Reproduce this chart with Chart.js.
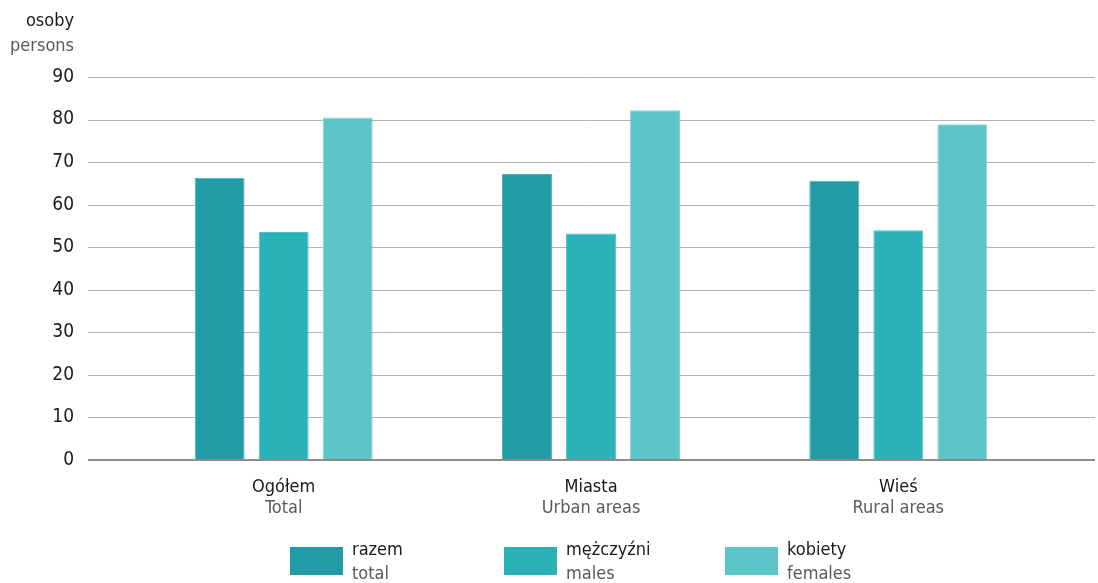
<!DOCTYPE html>
<html>
<head>
<meta charset="utf-8">
<script src="https://cdn.jsdelivr.net/npm/chart.js@4"></script>
<style>
  html, body { margin: 0; padding: 0; background: #fff; }
  #wrap { width: 1098px; height: 583px; position: relative; }
</style>
</head>
<body>
<div id="wrap"><canvas id="chart" width="1098" height="583"></canvas></div>
<script>
// Data
const categories = ["Ogółem", "Miasta", "Wieś"];
const categoriesEn = ["Total", "Urban areas", "Rural areas"];
const seriesLabels = ["razem", "mężczyźni", "kobiety"];
const seriesLabelsEn = ["total", "males", "females"];
const totalValues = [66.3, 67.2, 65.6];
const maleValues = [53.6, 53.2, 54.0];
const femaleValues = [80.5, 82.2, 78.9];
const yTickMax = 90;
const yTickStep = 10;

const colors = ["#219ca6", "#2ab2b8", "#5bc5c8"];
const edgeColors = ["#4bb0b8", "#55c2c7", "#7fd3d5"];
const FONT = '"Liberation Sans Narrow", "DejaVu Sans Condensed", "Open Sans", sans-serif';
const DARK = "#1a1a1a";
const GREY = "#5a5a5a";

// Gridlines, axis labels and legend drawn with the chart's own scales
const decorations = {
  id: "decorations",
  beforeDatasetsDraw(chart) {
    const ctx = chart.ctx;
    const y = chart.scales.y;
    ctx.save();
    ctx.strokeStyle = "#b3b3b3";
    ctx.lineWidth = 1;
    y.ticks.forEach((t) => {
      if (t.value === 0) return;
      const py = Math.round(y.getPixelForValue(t.value)) + 0.5;
      ctx.beginPath();
      ctx.moveTo(88, py);
      ctx.lineTo(1095, py);
      ctx.stroke();
    });
    ctx.restore();
  },
  afterDraw(chart) {
    const ctx = chart.ctx;
    const x = chart.scales.x;
    const y = chart.scales.y;
    ctx.save();

    // zero line
    const y0 = Math.round(y.getPixelForValue(0));
    ctx.strokeStyle = "#8c8c8c";
    ctx.lineWidth = 2;
    ctx.beginPath();
    ctx.moveTo(88, y0);
    ctx.lineTo(1095, y0);
    ctx.stroke();

    // unit label
    ctx.textAlign = "right";
    ctx.textBaseline = "middle";
    ctx.font = "18px " + FONT;
    ctx.fillStyle = DARK;
    ctx.fillText("osoby", 74, 21);
    ctx.fillStyle = GREY;
    ctx.fillText("persons", 74, 46);

    // category labels
    ctx.textAlign = "center";
    categories.forEach((c, i) => {
      const px = x.getPixelForValue(i);
      ctx.fillStyle = DARK;
      ctx.fillText(c, px, 487);
      ctx.fillStyle = GREY;
      ctx.fillText(categoriesEn[i], px, 508);
    });

    // legend
    const legendX = [290, 504, 725];
    ctx.textAlign = "left";
    chart.data.datasets.forEach((ds, i) => {
      ctx.fillStyle = ds.backgroundColor;
      ctx.fillRect(legendX[i], 547, 53, 28);
      ctx.fillStyle = DARK;
      ctx.fillText(seriesLabels[i], legendX[i] + 62, 550);
      ctx.fillStyle = GREY;
      ctx.fillText(seriesLabelsEn[i], legendX[i] + 62, 574);
    });

    ctx.restore();
  },
};

const ctx = document.getElementById("chart").getContext("2d");
const chart = new Chart(ctx, {
  type: "bar",
  data: {
    labels: categories,
    datasets: [
      { label: seriesLabels[0], data: totalValues, backgroundColor: colors[0], borderColor: edgeColors[0] },
      { label: seriesLabels[1], data: maleValues, backgroundColor: colors[1], borderColor: edgeColors[1] },
      { label: seriesLabels[2], data: femaleValues, backgroundColor: colors[2], borderColor: edgeColors[2] },
    ],
  },
  options: {
    responsive: false,
    animation: false,
    maintainAspectRatio: false,
    categoryPercentage: 0.625,
    barPercentage: 0.78,
    borderWidth: 1,
    layout: {
      padding: { top: 77, right: 46, bottom: 123, left: 0 },
    },
    plugins: {
      legend: { display: false },
      tooltip: { enabled: false },
    },
    scales: {
      x: {
        display: false,
      },
      y: {
        min: 0,
        max: yTickMax,
        ticks: {
          stepSize: yTickStep,
          color: DARK,
          padding: 48,
          font: { size: 19, family: FONT },
        },
        grid: { display: false },
        border: { display: false },
        afterFit(scale) {
          scale.width = 130;
        },
      },
    },
  },
  plugins: [decorations],
});
</script>
</body>
</html>
